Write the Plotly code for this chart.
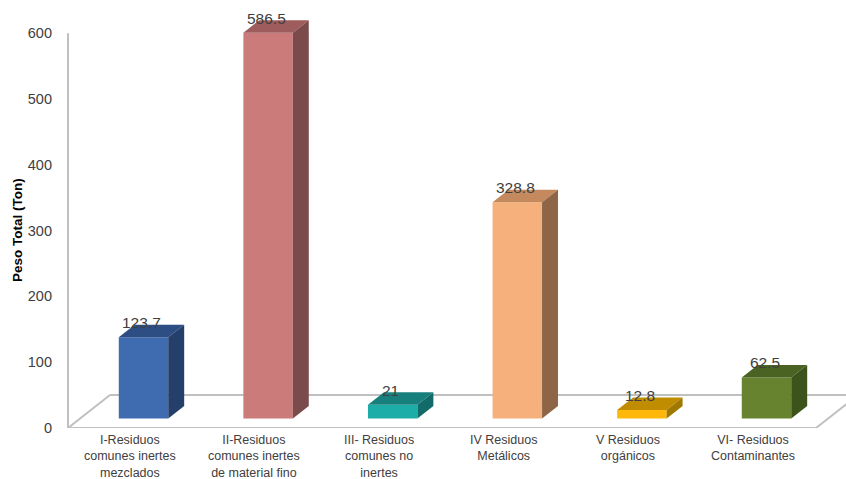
import plotly.graph_objects as go

# ---------------- data ----------------
categories = [
    "I-Residuos<br>comunes inertes<br>mezclados",
    "II-Residuos<br>comunes inertes<br>de material fino",
    "III- Residuos<br>comunes no<br>inertes",
    "IV Residuos<br>Metálicos",
    "V Residuos<br>orgánicos",
    "VI- Residuos<br>Contaminantes",
]
values = [123.7, 586.5, 21, 328.8, 12.8, 62.5]
value_labels = ["123.7", "586.5", "21", "328.8", "12.8", "62.5"]
y_ticks = [0, 100, 200, 300, 400, 500, 600]

front_colors = ["#3F6BB1", "#CC7B7B", "#1DADA9", "#F5B07B", "#FFB80A", "#67832F"]
top_colors = ["#2D4E82", "#9E5C5C", "#17807C", "#C48A5E", "#C08C00", "#4A6322"]
side_colors = ["#243F6A", "#7B4A4A", "#136B69", "#8E6647", "#9F7800", "#3D531C"]

# ---------------- 3D geometry (styling constants) ----------------
BASE = 14.4      # lift of bar front face (depth position on floor)
DX = 0.128       # depth offset, x units
DY = 19.0        # depth offset, y units
W = 0.397        # bar width
FLOOR_DX = 0.337
FLOOR_DY = 50.15
X_LEFT = -0.606
X_FRONT_RIGHT = 5.397

FONT = "Liberation Sans, Arial"

fig = go.Figure()

x_pos = list(range(len(values)))

# front faces
fig.add_trace(go.Bar(
    x=x_pos, y=values, base=[BASE] * len(values), width=W,
    marker=dict(color=front_colors, line=dict(width=0)),
    hoverinfo="skip",
))

# top and side faces
for i, v in enumerate(values):
    x0, x1 = i - W / 2, i + W / 2
    y0, y1 = BASE, BASE + v
    fig.add_trace(go.Scatter(
        x=[x0, x1, x1 + DX, x0 + DX, x0],
        y=[y1, y1, y1 + DY, y1 + DY, y1],
        fill="toself", fillcolor=top_colors[i], mode="lines",
        line=dict(width=0, color=top_colors[i]), hoverinfo="skip",
    ))
    fig.add_trace(go.Scatter(
        x=[x1, x1 + DX, x1 + DX, x1, x1],
        y=[y0, y0 + DY, y1 + DY, y1, y0],
        fill="toself", fillcolor=side_colors[i], mode="lines",
        line=dict(width=0, color=side_colors[i]), hoverinfo="skip",
    ))
    fig.add_annotation(
        x=i - 0.016, y=y1 + DY, xref="x", yref="y",
        text=value_labels[i], showarrow=False, yanchor="middle", yshift=2,
        font=dict(family=FONT, size=15.5, color="#404040"),
    )
    fig.add_annotation(
        x=i - 0.112, y=0, xref="x", yref="y",
        text=categories[i], showarrow=False, yanchor="top", yshift=-3,
        align="center",
        font=dict(family=FONT, size=12.5, color="#404040"),
    )

gray = "#C0C0C0"
shapes = [
    # vertical axis line
    dict(type="line", xref="x", yref="y", x0=X_LEFT, x1=X_LEFT, y0=0, y1=600,
         line=dict(color=gray, width=2), layer="below"),
    # floor front edge
    dict(type="line", xref="x", yref="y", x0=X_LEFT, x1=X_FRONT_RIGHT, y0=0, y1=0,
         line=dict(color=gray, width=2), layer="below"),
    # floor back edge
    dict(type="line", xref="x", yref="y", x0=X_LEFT + FLOOR_DX, x1=X_FRONT_RIGHT + FLOOR_DX,
         y0=FLOOR_DY, y1=FLOOR_DY, line=dict(color=gray, width=2), layer="below"),
    # floor left diagonal
    dict(type="line", xref="x", yref="y", x0=X_LEFT, x1=X_LEFT + FLOOR_DX, y0=0, y1=FLOOR_DY,
         line=dict(color=gray, width=2), layer="below"),
    # floor right diagonal
    dict(type="line", xref="x", yref="y", x0=X_FRONT_RIGHT, x1=X_FRONT_RIGHT + FLOOR_DX,
         y0=0, y1=FLOOR_DY, line=dict(color=gray, width=2), layer="below"),
]

fig.add_annotation(
    x=-0.0628, y=0.468, xref="paper", yref="paper", textangle=-90,
    text="<b>Peso Total (Ton)</b>", showarrow=False, xanchor="center", yanchor="middle",
    font=dict(family=FONT, size=13.5, color="#000000"),
)

fig.update_layout(
    width=846, height=479,
    margin=dict(l=66, r=0, t=5, b=51, pad=0),
    paper_bgcolor="white", plot_bgcolor="white",
    showlegend=False,
    shapes=shapes,
    xaxis=dict(range=[-0.622, 5.638], visible=False, fixedrange=True),
    yaxis=dict(range=[0, 642.9], tickvals=y_ticks, ticktext=[str(t) for t in y_ticks],
               showgrid=False, zeroline=False, showline=False, ticks="",
               ticklabelstandoff=13,
               tickfont=dict(family=FONT, size=14.5, color="#404040")),
)

fig.write_html("out.html")
